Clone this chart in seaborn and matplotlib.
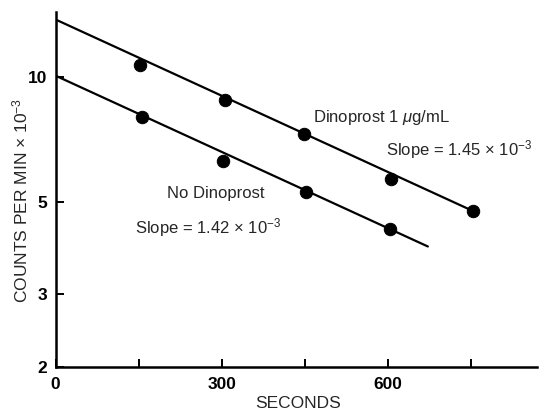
import matplotlib
matplotlib.use("Agg")
import matplotlib.pyplot as plt
import seaborn as sns
import pandas as pd

# data
dino_x = [152, 306, 449, 605, 753]
dino_y = [10.67, 8.80, 7.28, 5.67, 4.75]
nodino_x = [156, 302, 452, 604]
nodino_y = [8.01, 6.28, 5.28, 4.29]

# fitted lines (end points)
dino_line_x = [0, 753]
dino_line_y = [13.72, 4.75]
nodino_line_x = [0, 672]
nodino_line_y = [10.05, 3.90]

x_ticks = [0, 150, 300, 450, 600, 750]
x_ticklabels = ["0", "", "300", "", "600", ""]
y_ticks = [2, 3, 5, 10]
y_ticklabels = ["2", "3", "5", "10"]

sns.set_style("ticks")
plt.rcParams['font.family'] = ['Liberation Sans', 'DejaVu Sans']
plt.rcParams['mathtext.fontset'] = 'custom'
plt.rcParams['mathtext.rm'] = 'Liberation Sans'
plt.rcParams['mathtext.it'] = 'Liberation Sans:italic'
plt.rcParams['mathtext.bf'] = 'Liberation Sans:bold'

W, H = 549, 413
fig = plt.figure(figsize=(5.49, 4.13), dpi=100)
ax = fig.add_axes([55.5 / W, 46 / H, (537 - 55.5) / W, (367 - 12) / H])

dfd = pd.DataFrame({"x": dino_x, "y": dino_y})
dfn = pd.DataFrame({"x": nodino_x, "y": nodino_y})
dld = pd.DataFrame({"x": dino_line_x, "y": dino_line_y})
dln = pd.DataFrame({"x": nodino_line_x, "y": nodino_line_y})

sns.lineplot(data=dld, x="x", y="y", ax=ax, color="black", linewidth=1.6)
sns.lineplot(data=dln, x="x", y="y", ax=ax, color="black", linewidth=1.6)
sns.scatterplot(data=dfd, x="x", y="y", ax=ax, color="black", s=80, edgecolor="black", zorder=3)
sns.scatterplot(data=dfn, x="x", y="y", ax=ax, color="black", s=80, edgecolor="black", zorder=3)

ax.set_yscale("log")
ax.set_xlim(0, 869)
ax.set_ylim(2, 14.3)
ax.set_xticks(x_ticks)
ax.set_xticklabels(x_ticklabels, fontsize=12.5, fontweight="bold")
ax.set_yticks(y_ticks)
ax.set_yticklabels(y_ticklabels, fontsize=12.5, fontweight="bold")
ax.yaxis.set_minor_locator(matplotlib.ticker.NullLocator())
ax.xaxis.set_minor_locator(matplotlib.ticker.NullLocator())
ax.tick_params(axis="both", direction="in", length=6, width=1.4, colors="black")
ax.tick_params(axis="x", pad=7)
ax.tick_params(axis="y", pad=6)

for s in ["top", "right"]:
    ax.spines[s].set_visible(False)
for s in ["left", "bottom"]:
    ax.spines[s].set_linewidth(1.8)
    ax.spines[s].set_color("black")

ax.set_xlabel("")
ax.set_ylabel("")
fig.text(298 / W, 1 - 404 / H, "SECONDS", fontsize=12.5, ha="center", va="center")
fig.text(20 / W, 1 - 200 / H, "COUNTS PER MIN × 10$^{-3}$", fontsize=12.5,
         ha="center", va="center", rotation=90)

ax.text(465, 7.95, "Dinoprost 1 $\\mu$g/mL", fontsize=12, va="center", ha="left")
ax.text(597, 6.68, "Slope = 1.45 × 10$^{-3}$", fontsize=12, va="center", ha="left", clip_on=False)
ax.text(201, 5.22, "No Dinoprost", fontsize=12, va="center", ha="left")
ax.text(144, 4.33, "Slope = 1.42 × 10$^{-3}$", fontsize=12, va="center", ha="left")

fig.savefig("out.png", dpi=100)
